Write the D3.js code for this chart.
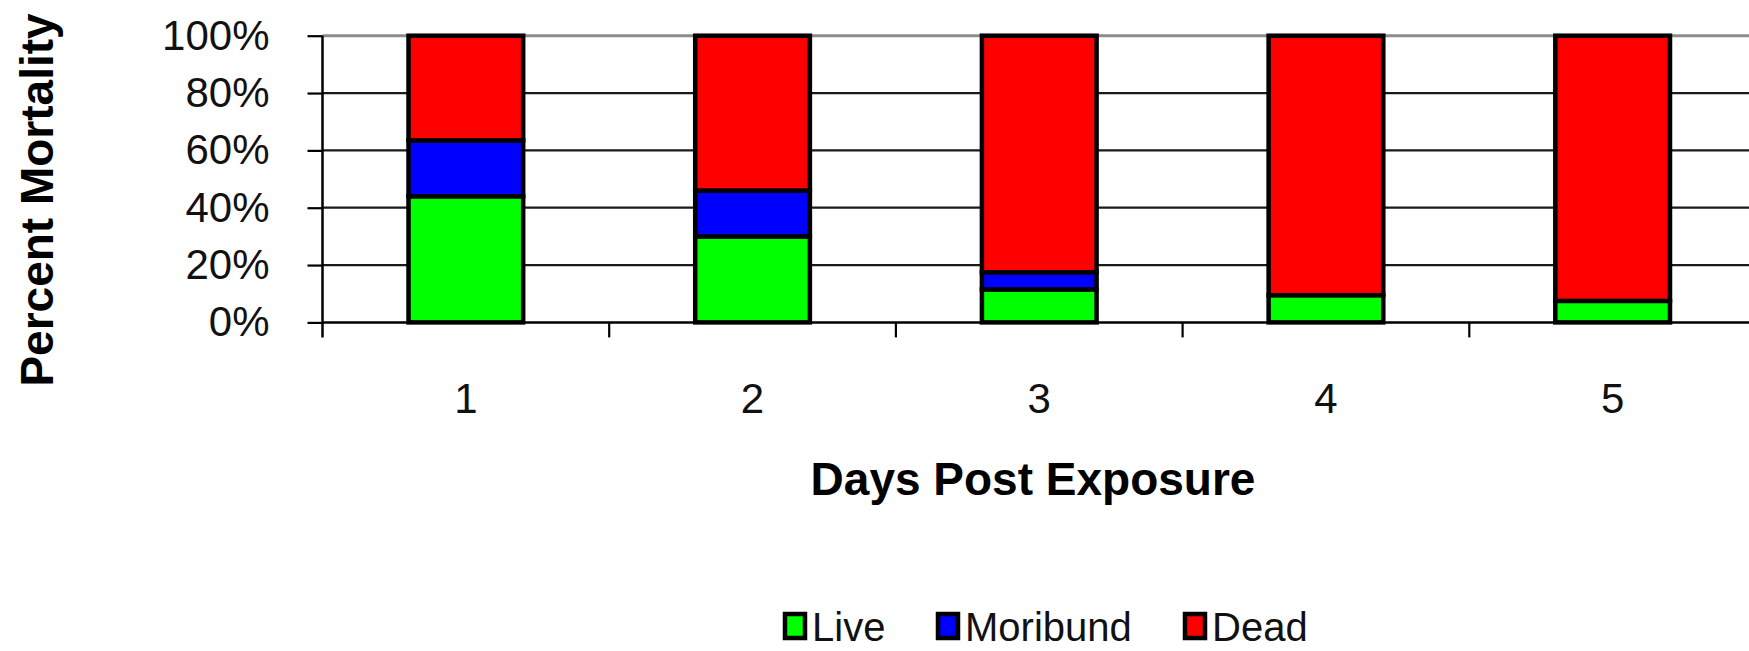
<!DOCTYPE html>
<html>
<head>
    <meta charset="UTF-8">
    <title>Percent Mortality</title>
    <script src="https://d3js.org/d3.v7.min.js"></script>
    <style>
        body { margin: 0; padding: 0; background: #fff; }
        svg { display: block; font-family: "Liberation Sans", Arial, sans-serif; }
        .tick-label { font-size: 42px; fill: #111; }
        .axis-title { font-size: 46px; font-weight: bold; fill: #000; }
        .legend-text { font-size: 40px; fill: #111; }
    </style>
</head>
<body>
    <svg id="chart" width="1749" height="651"></svg>
    <script>
        // 数据
        const days = ["1", "2", "3", "4", "5"];
        const live = [44, 30, 11.5, 9.5, 7.5];
        const moribund = [19.5, 16, 6, 0, 0];
        const dead = [36.5, 54, 82.5, 90.5, 92.5];
        const yTicks = [0, 20, 40, 60, 80, 100];
        const seriesNames = ["Live", "Moribund", "Dead"];
        const seriesColors = ["#00ff00", "#0000ff", "#ff0000"];

        const rows = days.map((d, i) => ({ day: d, Live: live[i], Moribund: moribund[i], Dead: dead[i] }));

        const svg = d3.select("#chart");

        // 坐标
        const plot = { left: 322.5, right: 1756, top: 35.7, bottom: 322.4 };
        const x = d3.scaleBand().domain(days).range([plot.left, plot.right]);
        const y = d3.scaleLinear().domain([0, 100]).range([plot.bottom, plot.top]);
        const color = d3.scaleOrdinal().domain(seriesNames).range(seriesColors);

        // 网格线
        svg.append("g")
            .selectAll("line")
            .data(yTicks.filter(t => t > 0))
            .join("line")
            .attr("x1", plot.left).attr("x2", plot.right)
            .attr("y1", d => y(d)).attr("y2", d => y(d))
            .attr("stroke", d => d === 100 ? "#8c8c8c" : "#1a1a1a")
            .attr("stroke-width", d => d === 100 ? 3 : 2.2);

        // 堆叠柱
        const stack = d3.stack().keys(seriesNames)(rows);
        const bw = x.bandwidth() * 0.4;
        svg.append("g")
            .selectAll("g")
            .data(stack)
            .join("g")
            .attr("fill", d => color(d.key))
            .selectAll("rect")
            .data(d => d.filter(s => s[1] - s[0] > 0))
            .join("rect")
            .attr("x", d => x(d.data.day) + (x.bandwidth() - bw) / 2)
            .attr("width", bw)
            .attr("y", d => y(d[1]))
            .attr("height", d => y(d[0]) - y(d[1]))
            .attr("stroke", "#000")
            .attr("stroke-width", 4.5);

        // Y 轴
        const yAxis = svg.append("g")
            .attr("transform", `translate(${plot.left},0)`)
            .call(d3.axisLeft(y).tickValues(yTicks).tickSize(15).tickPadding(38).tickFormat(d => d + "%"));
        yAxis.select(".domain").remove();
        yAxis.selectAll(".tick line").attr("stroke", "#000").attr("stroke-width", 2.2);
        yAxis.selectAll(".tick text").attr("class", "tick-label").attr("font-size", null).attr("font-family", null);
        svg.append("line")
            .attr("x1", plot.left).attr("x2", plot.left)
            .attr("y1", plot.top).attr("y2", plot.bottom + 15)
            .attr("stroke", "#000").attr("stroke-width", 2.5);

        // X 轴
        svg.append("line")
            .attr("x1", plot.left).attr("x2", plot.right)
            .attr("y1", plot.bottom).attr("y2", plot.bottom)
            .attr("stroke", "#000").attr("stroke-width", 2.5);
        svg.append("g")
            .selectAll("line")
            .data(days.slice(1))
            .join("line")
            .attr("x1", d => x(d)).attr("x2", d => x(d))
            .attr("y1", plot.bottom).attr("y2", plot.bottom + 15)
            .attr("stroke", "#000").attr("stroke-width", 2.2);
        svg.append("g")
            .selectAll("text")
            .data(days)
            .join("text")
            .attr("class", "tick-label")
            .attr("x", d => x(d) + x.bandwidth() / 2)
            .attr("y", 413)
            .attr("text-anchor", "middle")
            .text(d => d);

        // 轴标题
        svg.append("text")
            .attr("class", "axis-title")
            .attr("x", 1033).attr("y", 495)
            .attr("text-anchor", "middle")
            .text("Days Post Exposure");
        svg.append("text")
            .attr("class", "axis-title")
            .attr("font-size", 43)
            .attr("transform", "translate(53,200) rotate(-90)")
            .attr("text-anchor", "middle")
            .text("Percent Mortality");

        // 图例
        const legendX = [785, 938, 1185];
        const legend = svg.append("g")
            .selectAll("g")
            .data(seriesNames)
            .join("g")
            .attr("transform", (d, i) => `translate(${legendX[i]},614)`);
        legend.append("rect")
            .attr("width", 20).attr("height", 24)
            .attr("fill", d => color(d))
            .attr("stroke", "#000").attr("stroke-width", 4.5);
        legend.append("text")
            .attr("class", "legend-text")
            .attr("x", 27).attr("y", 27)
            .text(d => d);
    </script>
</body>
</html>
